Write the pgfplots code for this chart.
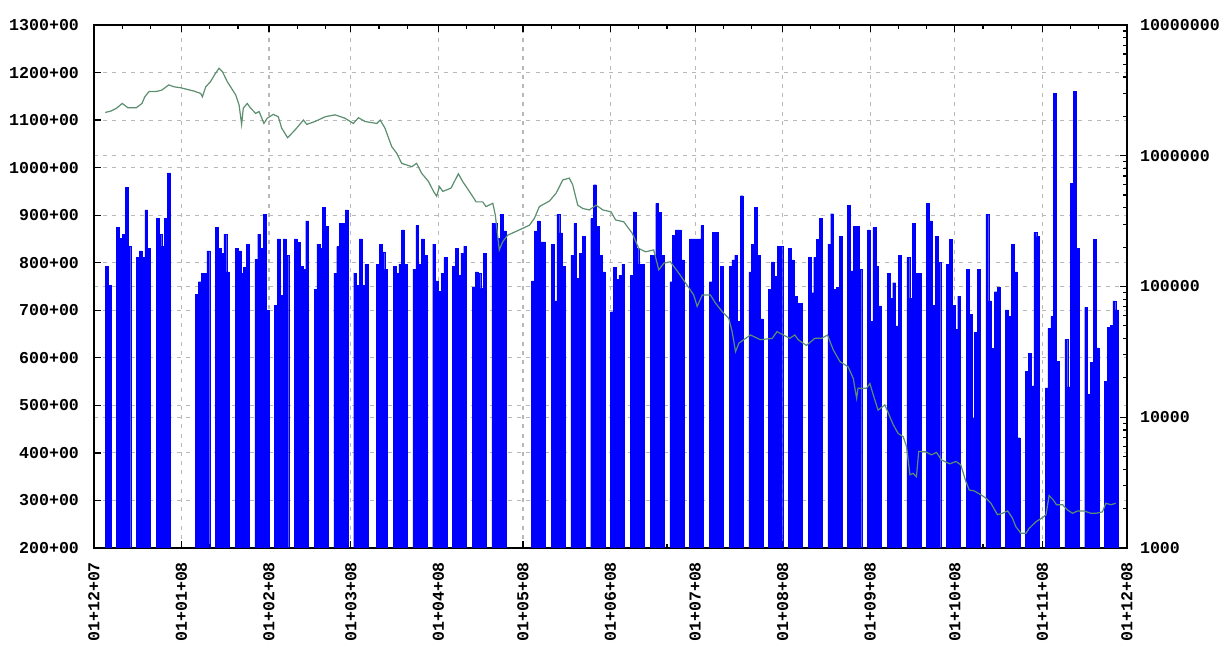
\documentclass[border=0pt]{standalone}
\usepackage{pgfplots}
\pgfplotsset{compat=1.18}
\usepackage{pgfplotstable}
\usepackage{fontspec}
\newfontfamily\tk{Liberation Mono}
\definecolor{linegreen}{RGB}{92,142,112}
\definecolor{barblue}{RGB}{0,0,255}

\pgfplotstableread{
d v
4 792
5 753
8 874
9 851
10 860
11 959
12 835
15 811
16 825
17 812
18 911
19 830
22 893
23 860
24 835
25 893
26 989
36 734
37 760
38 778
39 778
40 825
43 874
44 830
45 820
46 860
47 781
50 830
51 825
52 778
53 790
54 839
57 807
58 860
59 830
60 902
61 700
64 711
65 850
66 732
67 850
68 816
71 850
72 843
73 792
74 786
75 888
78 744
79 839
80 830
81 916
82 877
85 778
86 834
87 883
88 883
89 911
92 778
93 753
94 850
95 753
96 797
100 797
101 839
102 823
103 786
106 792
107 778
108 797
109 869
110 797
113 786
114 878
115 797
116 850
117 816
120 839
121 762
122 740
123 778
124 811
127 792
128 830
129 773
130 820
131 835
134 748
135 781
136 778
137 746
138 820
141 883
142 883
143 851
144 902
145 867
155 762
156 867
157 888
158 844
159 844
162 839
163 720
164 902
165 863
166 792
169 816
170 883
171 767
172 820
173 855
176 893
177 964
178 877
179 816
180 781
183 697
184 790
185 765
186 774
187 797
190 773
191 907
192 830
193 797
194 797
197 816
198 816
199 925
200 906
201 816
204 760
205 858
206 869
207 869
208 806
211 850
212 850
213 850
214 850
215 878
218 760
219 864
220 864
221 718
222 792
225 792
226 806
227 816
228 677
229 941
232 781
233 839
234 916
235 816
236 682
239 744
240 802
241 771
242 835
243 835
246 830
247 806
248 729
249 715
250 715
253 811
254 737
255 811
256 849
257 893
260 839
261 903
262 744
263 748
264 855
267 921
268 783
269 877
270 877
271 786
274 869
275 677
276 874
277 792
278 709
281 778
282 725
283 758
284 667
285 816
288 811
289 725
290 883
291 778
292 778
295 925
296 888
297 711
298 855
299 801
302 797
303 849
304 711
305 660
306 730
309 786
310 692
311 474
312 653
313 786
316 902
317 720
318 620
319 739
320 748
323 701
324 687
325 839
326 781
327 432
330 571
331 610
332 541
333 864
334 855
337 537
338 662
339 687
340 1156
341 592
344 639
345 539
346 967
347 1161
348 830
351 706
352 523
353 591
354 849
355 621
358 551
359 664
360 669
361 720
362 701
}\bars

\pgfplotstableread{
d v
4 1116
6 1119
8 1125
10 1135
12 1126
15 1126
17 1135
18 1149
19.5 1160
22 1160
24 1163
26.5 1174
28.3 1170
30.7 1168
35.4 1161
37.8 1156
38.4 1149
39.6 1170
41.3 1181
42.8 1196
44.3 1209
45.5 1202
47.2 1181
50.2 1153
51.4 1132
52.3 1091
52.9 1125
54.3 1135
55.5 1125
57.3 1114
58.5 1118
60.2 1093
61.4 1104
63.5 1112
65.3 1107
66.5 1083
68.6 1063
71.2 1079
74.2 1100
75.4 1091
78.3 1097
81.9 1107
85.4 1111
88.9 1104
91.9 1093
93.7 1105
96 1097
100.2 1093
101.4 1100
103.1 1083
105.5 1044
107.3 1030
109 1009
112.6 1002
114.3 1009
116.1 988
118.5 971
120.3 950
121.4 940
122.4 960
123.6 950
126.5 957
129.1 987
130.6 971
133 950
135.4 928
137.7 928
138.9 918
141.3 925
142.2 900
143 858
143.6 827
144.8 844
146.6 858
150.7 869
154.3 879
156 893
157.8 918
161.4 930
163.7 946
166.1 974
168.4 978
169.6 964
171.4 921
173.2 914
175.5 911
177.9 921
180.3 911
183.2 907
184.8 890
187.7 886
190.7 862
193 830
195.4 823
198.3 827
200.1 785
201.9 799
204.2 802
207.2 778
210.1 753
212.5 732
213.7 708
215.5 732
218.4 732
220.2 715
222.6 697
224.9 683
226.1 655
227.3 613
228.5 631
232.6 648
236.1 638
240.3 641
242 655
246.5 641
248.3 648
249.5 638
252.4 626
255.4 641
257.8 641
259.9 648
261.9 617
264.3 592
267.2 581
269 557
270.2 515
270.7 536
273.7 536
274.9 546
276.1 522
277.8 490
280.2 501
283.2 459
284.9 441
286.7 434
287.9 413
289.1 354
290.2 357
291.4 350
292.2 403
294.4 403
296.7 396
298.5 401
300.3 385
303.2 377
305.4 382
307.1 375
308.9 340
310.1 322
311.9 320
314.2 312
316 305
317.8 294
320.1 270
321.9 273
323.7 278
325.4 263
326.6 245
328.4 231
330.2 231
331.3 241
333.7 255
336.1 264
337.3 270
338.4 310
339.9 301
341 291
343.2 291
344.9 280
346.7 273
348.5 278
350.8 278
353.2 273
355 273
357.3 276
358.5 294
360.3 291
362 294
}\price

\pgfplotsset{
  common/.style={
    scale only axis, width=516.5pt, height=261.5pt,
    xmin=0, xmax=366,
    tick align=inside,
    major tick length=3.5pt, minor tick length=1.8pt,
    every tick/.style={black, line width=0.6pt},
    axis line style={black, line width=0.8pt},
    grid style={dash pattern=on 2pt off 2.6pt, color=black!28, line width=0.55pt},
    tick label style={font=\tk\bfseries\fontsize{8.3}{9}\selectfont},
  }
}

\begin{document}
\begin{tikzpicture}
\begin{axis}[common,
  at={(0,0)}, anchor=south west,
  ymode=log, ymin=1000, ymax=10000000,
  axis y line*=right, hide x axis,
  ytick={1000,10000,100000,1000000,10000000},
  yticklabels={1000,10000,100000,1000000,10000000},
  ymajorgrids, yticklabel shift=3pt,
]
\addplot[draw=none] coordinates {(0,1000)};
\end{axis}
\begin{axis}[common,
  at={(0,0)}, anchor=south west,
  ymin=200, ymax=1300,
  ytick={200,300,...,1300},
  yticklabels={200+00,300+00,400+00,500+00,600+00,700+00,800+00,900+00,1000+00,1100+00,1200+00,1300+00},
  ytick pos=left,
  xtick={0,31,62,91,122,152,183,213,244,275,305,336,366},
  xticklabels={01+12+07,01+01+08,01+02+08,01+03+08,01+04+08,01+05+08,01+06+08,01+07+08,01+08+08,01+09+08,01+10+08,01+11+08,01+12+08},
  minor xtick={10,20,41,51,72,82,101,111,132,142,162,172,193,203,223,233,254,264,285,295,315,325,346,356},
  xticklabel style={rotate=90, anchor=east},
  xticklabel shift=3.5pt, yticklabel shift=4pt,
  xmajorgrids, ymajorgrids,
  axis on top=false,
]
\addplot[ybar, bar width=1, bar shift=0pt, fill=barblue, draw=barblue, line width=0.15pt]
  table[x expr=\thisrow{d}+0.5, y=v] {\bars};
\addplot[color=linegreen, line width=0.6pt, mark=none] table[x=d, y=v] {\price};
\end{axis}
\pgfresetboundingbox
\path[use as bounding box] (-47pt,-51.5pt) rectangle (562.5pt,274pt);
\end{tikzpicture}
\end{document}
